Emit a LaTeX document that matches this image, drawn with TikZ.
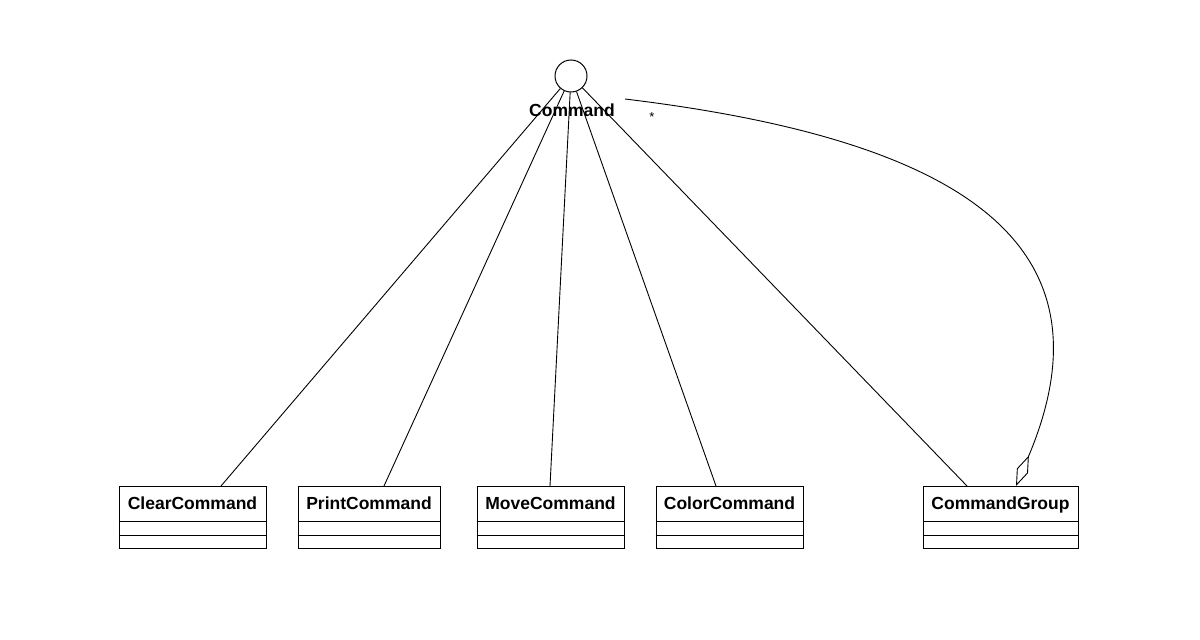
\documentclass[tikz,border=0pt]{standalone}
\usepackage{fontspec}
\setmainfont{Liberation Sans}
\usetikzlibrary{arrows.meta}
\tikzset{
  cls/.style={draw, line width=1pt, rectangle, inner sep=0pt, minimum height=62pt},
  clstitle/.style={font=\bfseries\fontsize{17.5}{20}\selectfont, inner sep=0pt},
  conn/.style={draw, line width=0.9pt},
  iface/.style={draw, circle, line width=1pt, minimum size=32pt, inner sep=0pt},
}
\newcommand\umlclass[4]{%
  \node[cls, minimum width=#3-#2, anchor=north] (#1) at ({(#2+#3)/2},486) {};
  \node[clstitle, anchor=base] (#1t) at ([yshift=-23pt]#1.north) {#4};
  \draw[line width=1pt] ([yshift=-35pt]#1.north west) -- ([yshift=-35pt]#1.north east);
  \draw[line width=1pt] ([yshift=-49pt]#1.north west) -- ([yshift=-49pt]#1.north east);
}
\begin{document}
\begin{tikzpicture}[x=1pt,y=-1pt]
\useasboundingbox (0,0) rectangle (1200,640);
\node[iface] (cmd) at (571,76) {};
\node[clstitle] (cmdlabel) at (572,110) {Command};
\node[font=\fontsize{13}{14}\selectfont, inner sep=0pt] (star) at (652,117) {*};
\umlclass{clear}{119}{266}{ClearCommand}
\umlclass{print}{298}{440}{PrintCommand}
\umlclass{move}{477}{624}{MoveCommand}
\umlclass{color}{656}{803}{ColorCommand}
\umlclass{group}{923}{1078}{CommandGroup}
\draw[conn] (cmd) -- ([xshift=28.5pt]clear.north);
\draw[conn] (cmd) -- ([xshift=15pt]print.north);
\draw[conn] (cmd) -- ([xshift=-0.5pt]move.north);
\draw[conn] (cmd) -- ([xshift=-13.5pt]color.north);
\draw[conn] (cmd) -- ([xshift=-33.5pt]group.north);
\coordinate (aggstart) at (625,99);
\draw[conn, -{Diamond[open, length=33pt, width=12pt, line width=0.9pt]}]
  (aggstart) .. controls (955,139) and (1120,240) .. ([xshift=15.5pt]group.north);
\end{tikzpicture}
\end{document}
